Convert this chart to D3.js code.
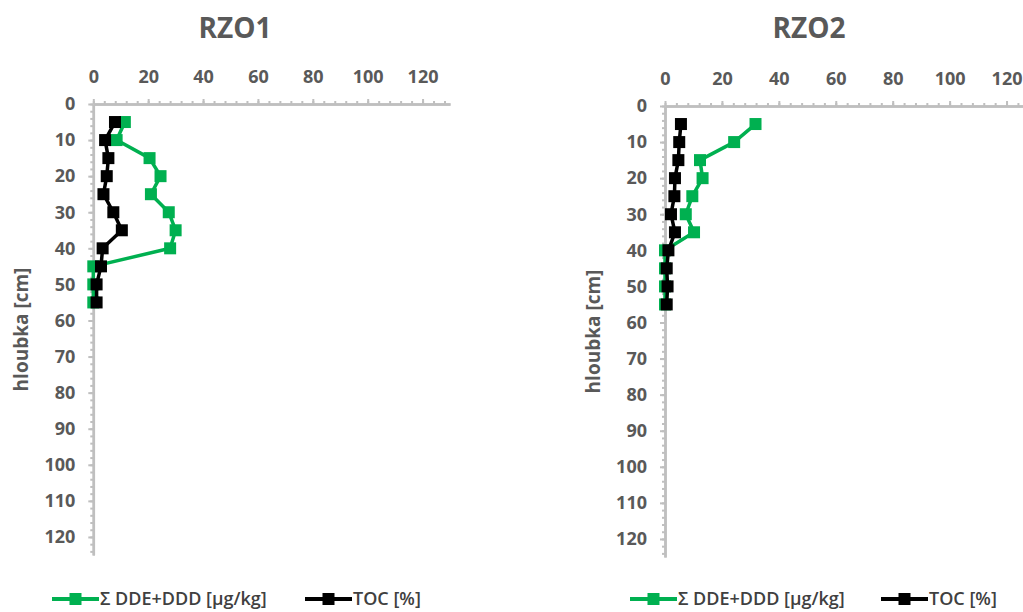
<!DOCTYPE html>
<html>
<head>
<meta charset="utf-8">
<script src="https://cdn.jsdelivr.net/npm/d3@7"></script>
<style>
  html, body { margin: 0; padding: 0; background: #fff; }
  svg { display: block; }
  text { font-family: "Open Sans", "DejaVu Sans", sans-serif; }
</style>
</head>
<body>
<svg id="chart" width="1023" height="612"></svg>
<script>
// Sampling depths [cm]
const depths = [5, 10, 15, 20, 25, 30, 35, 40, 45, 50, 55];

// RZO1 profile
const rzo1DDE = [11.5, 8.5, 20.5, 24.5, 21, 27.5, 30, 28, 0, 0, 0];
const rzo1TOC = [7.9, 4.3, 5.5, 4.9, 3.7, 7.3, 10.4, 3.4, 2.8, 1.2, 1.2];

// RZO2 profile
const rzo2DDE = [31.8, 24.3, 12.3, 13.2, 9.6, 7.3, 10.2, 0, 0, 0, 0];
const rzo2TOC = [5.6, 5.0, 4.7, 3.5, 3.3, 2.1, 3.5, 1.2, 0.6, 0.9, 0.6];

// Axis ticks
const xTicks = [0, 20, 40, 60, 80, 100, 120];
const yTicks = [0, 10, 20, 30, 40, 50, 60, 70, 80, 90, 100, 110, 120];

const seriesNames = ["Σ DDE+DDD [µg/kg]", "TOC [%]"];
const seriesColors = ["#00b050", "#000000"];

const svg = d3.select("#chart");
const axisColor = "#bfbfbf";
const labelColor = "#595959";
const mk = 12; // marker size

function drawPanel(opt) {
  const x = d3.scaleLinear().domain([0, 130]).range([opt.x0, opt.x1]);
  const y = d3.scaleLinear().domain([0, 125]).range([opt.y0, opt.y1]);
  const g = svg.append("g");

  // title
  g.append("text")
    .attr("x", opt.titleX).attr("y", 38)
    .attr("text-anchor", "middle")
    .attr("font-size", 28).attr("font-weight", 700)
    .attr("fill", labelColor)
    .text(opt.title);

  // y axis title
  g.append("text")
    .attr("transform", `translate(${opt.yTitleX},${(opt.y0 + opt.y1) / 2}) rotate(-90)`)
    .attr("text-anchor", "middle")
    .attr("font-size", 19).attr("font-weight", 700)
    .attr("fill", labelColor)
    .text("hloubka [cm]");

  // minor ticks
  const xMinor = g.append("g").attr("transform", `translate(0,${opt.y0})`)
    .call(d3.axisTop(x).tickValues(d3.range(0, 130, 4)).tickSize(3).tickSizeOuter(0).tickFormat(""));
  const yMinor = g.append("g").attr("transform", `translate(${opt.x0},0)`)
    .call(d3.axisLeft(y).tickValues(d3.range(0, 125, 2)).tickSize(3).tickSizeOuter(0).tickFormat(""));

  // major ticks with labels
  const xAxis = g.append("g").attr("transform", `translate(0,${opt.y0})`)
    .call(d3.axisTop(x).tickValues(xTicks).tickSize(5).tickSizeOuter(0).tickPadding(16));
  const yAxis = g.append("g").attr("transform", `translate(${opt.x0},0)`)
    .call(d3.axisLeft(y).tickValues(yTicks).tickSize(5).tickSizeOuter(0).tickPadding(13));

  [xMinor, yMinor, xAxis, yAxis].forEach(a => {
    a.select(".domain").attr("stroke", axisColor).attr("stroke-width", 2.5);
    a.selectAll(".tick line").attr("stroke", axisColor).attr("stroke-width", 2);
    a.selectAll(".tick text")
      .attr("font-family", '"Open Sans", sans-serif')
      .attr("font-size", 18).attr("font-weight", 700)
      .attr("fill", labelColor);
  });

  // data series
  const line = d3.line().x(d => x(d.v)).y(d => y(d.depth));
  [opt.dde, opt.toc].forEach((vals, i) => {
    const data = depths.map((dp, k) => ({ depth: dp, v: vals[k] }));
    g.append("path").datum(data)
      .attr("fill", "none")
      .attr("stroke", seriesColors[i])
      .attr("stroke-width", 3.5)
      .attr("stroke-linejoin", "round")
      .attr("d", line);
    g.selectAll(null).data(data).enter().append("rect")
      .attr("x", d => x(d.v) - mk / 2)
      .attr("y", d => y(d.depth) - mk / 2)
      .attr("width", mk).attr("height", mk)
      .attr("fill", seriesColors[i]);
  });

  // legend
  const legY = 599;
  opt.legend.forEach((lx, i) => {
    g.append("line")
      .attr("x1", lx).attr("x2", lx + 47)
      .attr("y1", legY).attr("y2", legY)
      .attr("stroke", seriesColors[i]).attr("stroke-width", 4);
    g.append("rect")
      .attr("x", lx + 23.5 - mk / 2).attr("y", legY - mk / 2)
      .attr("width", mk).attr("height", mk)
      .attr("fill", seriesColors[i]);
    g.append("text")
      .attr("x", lx + 48).attr("y", legY + 6)
      .attr("font-size", 18).attr("font-weight", 600)
      .attr("fill", "#404040")
      .text(seriesNames[i]);
  });
}

drawPanel({
  title: "RZO1", titleX: 235, yTitleX: 28,
  x0: 93.3, x1: 450, y0: 104, y1: 555,
  dde: rzo1DDE, toc: rzo1TOC,
  legend: [52, 305]
});

drawPanel({
  title: "RZO2", titleX: 809, yTitleX: 600,
  x0: 665, x1: 1035, y0: 106, y1: 557,
  dde: rzo2DDE, toc: rzo2TOC,
  legend: [630, 881]
});
</script>
</body>
</html>
